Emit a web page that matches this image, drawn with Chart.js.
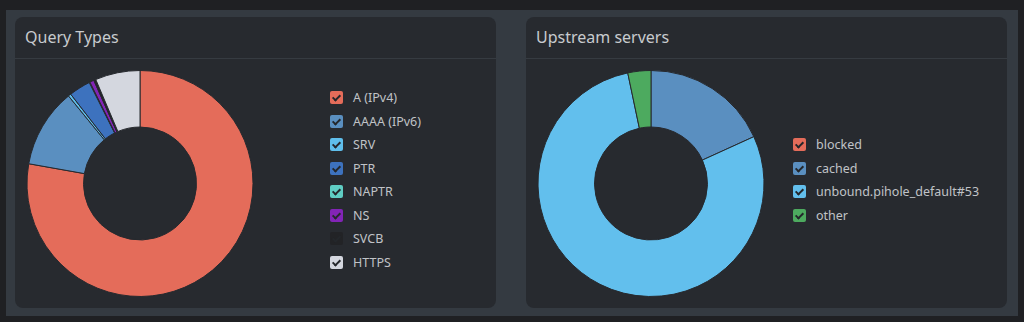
<!DOCTYPE html>
<html>
<head>
<meta charset="utf-8">
<script src="https://cdn.jsdelivr.net/npm/chart.js@4"></script>
<style>
  html, body { margin: 0; padding: 0; }
  body {
    width: 1024px; height: 322px; overflow: hidden;
    background: #1f2023;
    font-family: "Noto Sans", sans-serif;
  }
  .wrap {
    position: absolute; left: 6px; top: 10px; width: 1012px; height: 306px;
    background: #343a41;
  }
  .box {
    position: absolute; top: 7px; width: 481px; height: 291px;
    background: #272a2f; border-radius: 8px;
  }
  .box-title {
    height: 41px; line-height: 41px; padding-left: 10px;
    color: #c8cbce; font-size: 16px;
    border-bottom: 1px solid #363b41;
  }
  .chart-area {
    position: absolute; left: 0; top: 42px; width: 250px; height: 249px;
  }
  .legend {
    position: absolute; margin: 0; padding: 0; list-style: none;
  }
  .legend li {
    height: 23.5px; line-height: 23.5px; color: #c0c3c7; font-size: 12.5px;
    position: relative; padding-left: 23px; white-space: nowrap;
  }
  .legend .chk {
    position: absolute; left: 0; top: 5px; width: 13px; height: 13px;
    border-radius: 2px;
  }
  .legend .chk::after {
    content: ""; position: absolute; left: 4px; top: 2px; width: 3px; height: 6px;
    border: solid #24272b; border-width: 0 2px 2px 0; transform: rotate(45deg);
  }
</style>
</head>
<body>
<div class="wrap">
  <div class="box" style="left:9px">
    <div class="box-title">Query Types</div>
    <div class="chart-area"><canvas id="queryTypes"></canvas></div>
    <ul class="legend" id="queryLegend" style="left:315px; top:69px"></ul>
  </div>
  <div class="box" style="left:520px">
    <div class="box-title">Upstream servers</div>
    <div class="chart-area"><canvas id="upstreams"></canvas></div>
    <ul class="legend" id="upstreamLegend" style="left:267px; top:116px"></ul>
  </div>
</div>
<script>
// query types (percent of queries)
const queryLabels = ['A (IPv4)', 'AAAA (IPv6)', 'SRV', 'PTR', 'NAPTR', 'NS', 'SVCB', 'HTTPS'];
const queryValues = [77.8, 11.3, 0.4, 3.1, 0.1, 0.6, 0.3, 6.4];
const queryColors = ['#e46c5a', '#5a8fc0', '#5fbeeb', '#3d72be', '#5fcdc3', '#8224b6', '#222326', '#d4d7df'];

// upstream destinations (percent of queries)
const upstreamLabels = ['blocked', 'cached', 'unbound.pihole_default#53', 'other'];
const upstreamValues = [0, 18.2, 78.5, 3.3];
const upstreamColors = ['#e46c5a', '#5a8fc0', '#62bfed', '#4daa5f'];

function donut(id, labels, values, colors) {
    return new Chart(document.getElementById(id), {
        type: 'doughnut',
        data: {
            labels: labels,
            datasets: [{
                data: values,
                backgroundColor: colors,
                borderColor: '#272a2f',
                borderWidth: 1
            }]
        },
        options: {
            responsive: true,
            maintainAspectRatio: false,
            animation: false,
            cutout: '50%',
            layout: { padding: 11 },
            plugins: {
                legend: { display: false },
                tooltip: { enabled: false }
            }
        }
    });
}

// html legend with checkbox style markers
function legend(id, labels, colors) {
    const ul = document.getElementById(id);
    labels.forEach((lbl, i) => {
        const li = document.createElement('li');
        const chk = document.createElement('span');
        chk.className = 'chk';
        chk.style.background = colors[i];
        li.appendChild(chk);
        li.appendChild(document.createTextNode(lbl));
        ul.appendChild(li);
    });
}

donut('queryTypes', queryLabels, queryValues, queryColors);
donut('upstreams', upstreamLabels, upstreamValues, upstreamColors);
legend('queryLegend', queryLabels, queryColors);
legend('upstreamLegend', upstreamLabels, upstreamColors);
</script>
</body>
</html>
